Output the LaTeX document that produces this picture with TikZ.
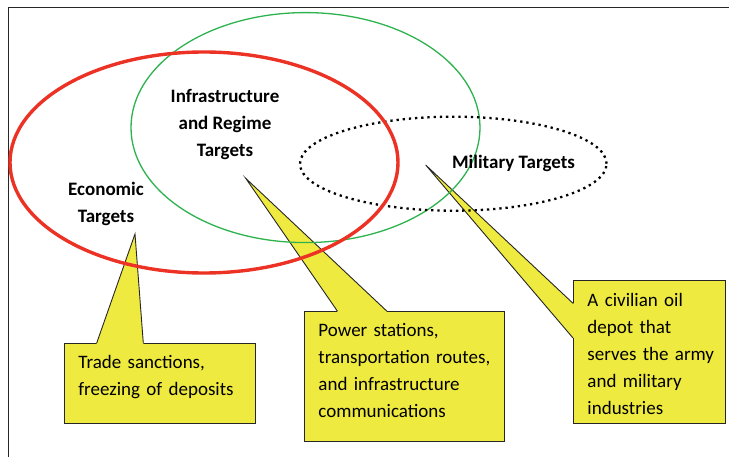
\documentclass[tikz,border=0pt]{standalone}
\usepackage{fontspec}
\setmainfont{Carlito}
\usepackage{tikz}
\usetikzlibrary{calc}
\tikzset{>=latex}
\definecolor{notegelb}{RGB}{239,234,64}
\definecolor{ringrot}{RGB}{236,50,36}
\definecolor{ringgruen}{RGB}{44,178,78}
\definecolor{rahmen}{RGB}{38,38,38}
\tikzset{
  zielname/.style={font=\fontsize{19}{27}\selectfont\bfseries, align=center, inner sep=0pt},
  notiz/.style={fill=notegelb, draw=rahmen, line width=0.9pt, anchor=north west,
                inner xsep=14pt, inner ysep=0pt, align=left, font=\fontsize{19}{27}\selectfont},
  zeiger/.style={draw=rahmen, line width=0.9pt, line join=miter},
}

\begin{document}
\begin{tikzpicture}[x=1pt,y=-1pt]
  \useasboundingbox (0,0) rectangle (729,457);
  % Rahmen: nur oben und links
  \coordinate (frametop) at (729,7);
  \coordinate (framecorner) at (8.3,7);
  \coordinate (framebottom) at (8.3,457);
  \draw[draw=rahmen, line width=0.9pt] (frametop) -- (framecorner) -- (framebottom);

  % gelbe Notizen
  \node[notiz, text width=163pt, minimum height=80pt, text depth=43pt] (trade) at (64,343)
       {Trade~sanctions,\\ freezing~of~deposits};
  \node[notiz, text width=172pt, minimum height=130pt, text depth=93pt] (power) at (304,311)
       {Power~stations,\\ transportation~routes,\\ and~infrastructure\\ communications};
  \node[notiz, text width=124pt, minimum height=143pt, text height=17pt] (depot) at (573,280)
       {A~civilian~oil\\ depot~that\\ serves~the~army\\ and~military\\ industries};

  % Spitzen der Zeiger
  \coordinate (econtip) at (135,234);
  \coordinate (infratip) at (245.7,178.3);
  \coordinate (miltip) at (425.7,165);

  \foreach \nd/\tp/\pa/\pb/\ins in {trade/econtip/{32.7,0}/{79.3,0}/{0,1.2},
                                    power/infratip/{33.3,0}/{82.7,0}/{0,1.2},
                                    depot/miltip/{0,23.3}/{0,58}/{1.2,0}}
  {
    \fill[notegelb] ($(\nd.north west)+(\pa)+(\ins)$) -- ($(\nd.north west)+(\pa)$) -- (\tp)
        -- ($(\nd.north west)+(\pb)$) -- ($(\nd.north west)+(\pb)+(\ins)$) -- cycle;
    \draw[zeiger] ($(\nd.north west)+(\pa)$) -- (\tp) -- ($(\nd.north west)+(\pb)$);
  }

  % drei Ellipsen
  \draw[ringgruen, line width=1.3pt] (305.5,127.6) ellipse [x radius=174.5pt, y radius=115pt];
  \draw[black, line width=2.3pt, dash pattern=on 2.3pt off 3.9pt]
       (453.3,163.7) ellipse [x radius=153.3pt, y radius=47pt];
  \draw[ringrot, line width=3.4pt] (204,162.5) ellipse [x radius=194pt, y radius=110.5pt];

  % Beschriftungen
  \node[zielname] (infra) at (225,124.5) {Infrastructure\\ and Regime\\ Targets};
  \node[zielname] (econ) at (106,204.4) {Economic\\ Targets};
  \node[zielname] (mil) at (513.5,163.2) {Military Targets};
\end{tikzpicture}
\end{document}
